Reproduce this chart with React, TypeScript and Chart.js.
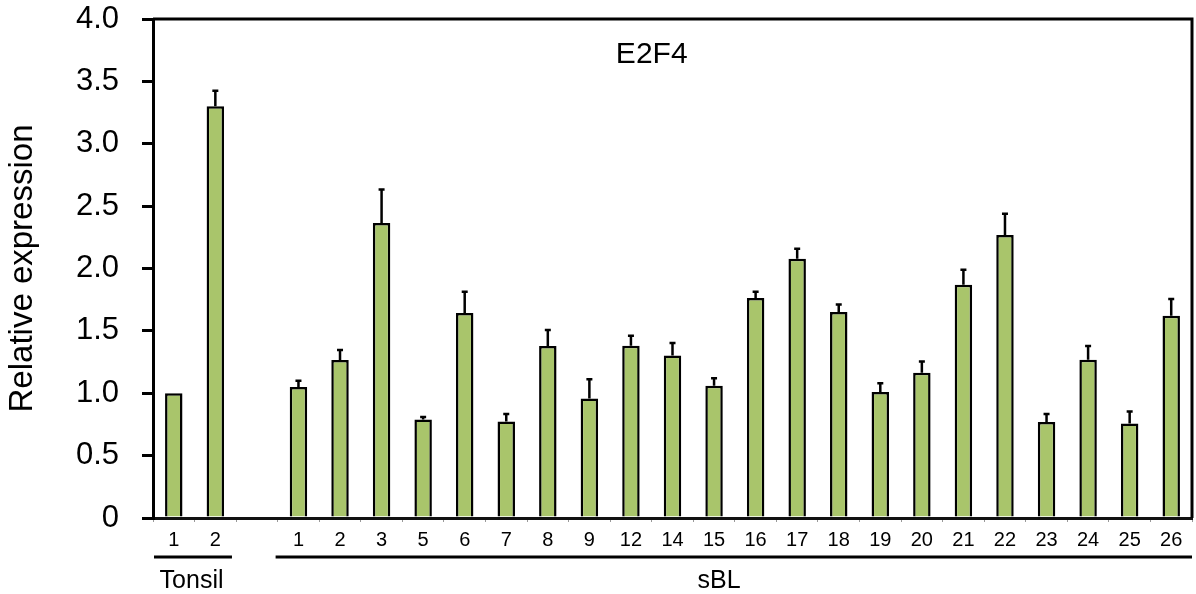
import React, { useEffect, useRef } from "react";
import { Chart, registerables } from "chart.js";

Chart.register(...registerables);

const categories = ["1", "2", "", "1", "2", "3", "5", "6", "7", "8", "9", "12", "14", "15", "16", "17", "18", "19", "20", "21", "22", "23", "24", "25", "26"];
const values: (number | null)[] = [1.0, 3.3, null, 1.05, 1.266, 2.364, 0.79, 1.643, 0.774, 1.378, 0.958, 1.38, 1.303, 1.06, 1.763, 2.078, 1.651, 1.01, 1.164, 1.869, 2.268, 0.769, 1.268, 0.758, 1.621];
const errors: (number | null)[] = [0, 0.125, null, 0.05, 0.08, 0.27, 0.02, 0.17, 0.06, 0.13, 0.155, 0.08, 0.1, 0.06, 0.05, 0.08, 0.06, 0.07, 0.09, 0.12, 0.17, 0.065, 0.11, 0.095, 0.135];
const yTicks = [0, 0.5, 1, 1.5, 2, 2.5, 3, 3.5, 4];
const chartTitle = "E2F4";
const yTitle = "Relative expression";
const groups = [
  { label: "Tonsil", first: 0, last: 1 },
  { label: "sBL", first: 3, last: 24 },
];

const FONT = "'Liberation Sans', Arial, Helvetica, sans-serif";

const extrasPlugin = {
  id: "extras",
  afterDatasetsDraw(chart: any) {
    const { ctx, chartArea, scales } = chart;
    const x = scales.x;
    const y = scales.y;
    const cat = (chartArea.right - chartArea.left) / categories.length;
    ctx.save();
    // error bars
    ctx.strokeStyle = "#000";
    ctx.lineWidth = 2.5;
    values.forEach((v, i) => {
      const e = errors[i];
      if (v == null || !e) return;
      const px = x.getPixelForValue(i);
      const y0 = y.getPixelForValue(v);
      const y1 = y.getPixelForValue(v + e);
      ctx.beginPath();
      ctx.moveTo(px, y0);
      ctx.lineTo(px, y1);
      ctx.moveTo(px - 3, y1);
      ctx.lineTo(px + 3, y1);
      ctx.stroke();
    });
    // frame top & right
    ctx.lineWidth = 3;
    ctx.beginPath();
    ctx.moveTo(chartArea.left, chartArea.top);
    ctx.lineTo(chartArea.right, chartArea.top);
    ctx.lineTo(chartArea.right, chartArea.bottom);
    ctx.stroke();
    // title inside
    ctx.fillStyle = "#000";
    ctx.font = `30px ${FONT}`;
    ctx.textAlign = "center";
    ctx.textBaseline = "middle";
    ctx.fillText(chartTitle, chartArea.left + 0.48 * (chartArea.right - chartArea.left), chartArea.top + 36);
    // group lines and labels
    const lineY = chartArea.bottom + 39;
    ctx.lineWidth = 3;
    groups.forEach((g, gi) => {
      const xs = gi === 0 ? chartArea.left + 1 : x.getPixelForValue(g.first) - 0.55 * cat;
      const xe = gi === 0 ? x.getPixelForValue(g.last) + 0.4 * cat : chartArea.right;
      ctx.beginPath();
      ctx.moveTo(xs, lineY);
      ctx.lineTo(xe, lineY);
      ctx.stroke();
      ctx.font = `25px ${FONT}`;
      const cx = gi === 0 ? (x.getPixelForValue(g.first) + x.getPixelForValue(g.last)) / 2 - 3 : x.getPixelForValue(13) + 5;
      ctx.fillText(g.label, cx, lineY + 24);
    });
    ctx.restore();
  },
};

export default function App() {
  const ref = useRef<HTMLCanvasElement>(null);
  useEffect(() => {
    if (!ref.current) return;
    const chart = new Chart(ref.current, {
      type: "bar",
      data: {
        labels: categories,
        datasets: [
          {
            data: values as any,
            backgroundColor: "#a9c56b",
            borderColor: "#000",
            borderWidth: 2.5,
            borderSkipped: "bottom",
            barPercentage: 0.42,
            categoryPercentage: 1,
          },
        ],
      },
      options: {
        animation: false,
        responsive: true,
        maintainAspectRatio: false,
        layout: { padding: { top: 19, right: 4, left: 0, bottom: 0 } },
        plugins: { legend: { display: false }, tooltip: { enabled: false } },
        scales: {
          x: {
            offset: true,
            grid: { display: true, drawOnChartArea: false, drawTicks: true, tickLength: 4, color: "#999", lineWidth: 1, offset: true },
            border: { display: true, color: "#111", width: 3 },
            ticks: { color: "#000", font: { family: FONT, size: 20 }, padding: 6, maxRotation: 0, autoSkip: false },
            afterFit(scale: any) {
              scale.height = 76;
            },
          },
          y: {
            min: 0,
            max: 4,
            afterBuildTicks(scale: any) {
              scale.ticks = yTicks.map((v) => ({ value: v }));
            },
            grid: { display: true, drawOnChartArea: false, drawTicks: true, tickLength: 11, color: "#000", lineWidth: 3 },
            border: { display: true, color: "#000", width: 3 },
            ticks: {
              color: "#000",
              font: { family: FONT, size: 31, lineHeight: 1.2 },
              padding: 23,
              callback: (v: any) => (Number(v) === 0 ? "0" : Number(v).toFixed(1)),
            },
            title: {
              display: true,
              text: yTitle,
              color: "#000",
              font: { family: FONT, size: 33 },
              padding: { top: 3, bottom: 0 },
            },
            afterFit(scale: any) {
              scale.width = 153;
              scale.paddingTop = 0;
              scale.paddingBottom = 0;
            },
          },
        },
      },
      plugins: [extrasPlugin],
    });
    return () => chart.destroy();
  }, []);
  return (
    <div style={{ position: "fixed", left: 0, top: 0, width: 1196, height: 594, background: "#fff" }}>
      <canvas ref={ref} />
    </div>
  );
}
